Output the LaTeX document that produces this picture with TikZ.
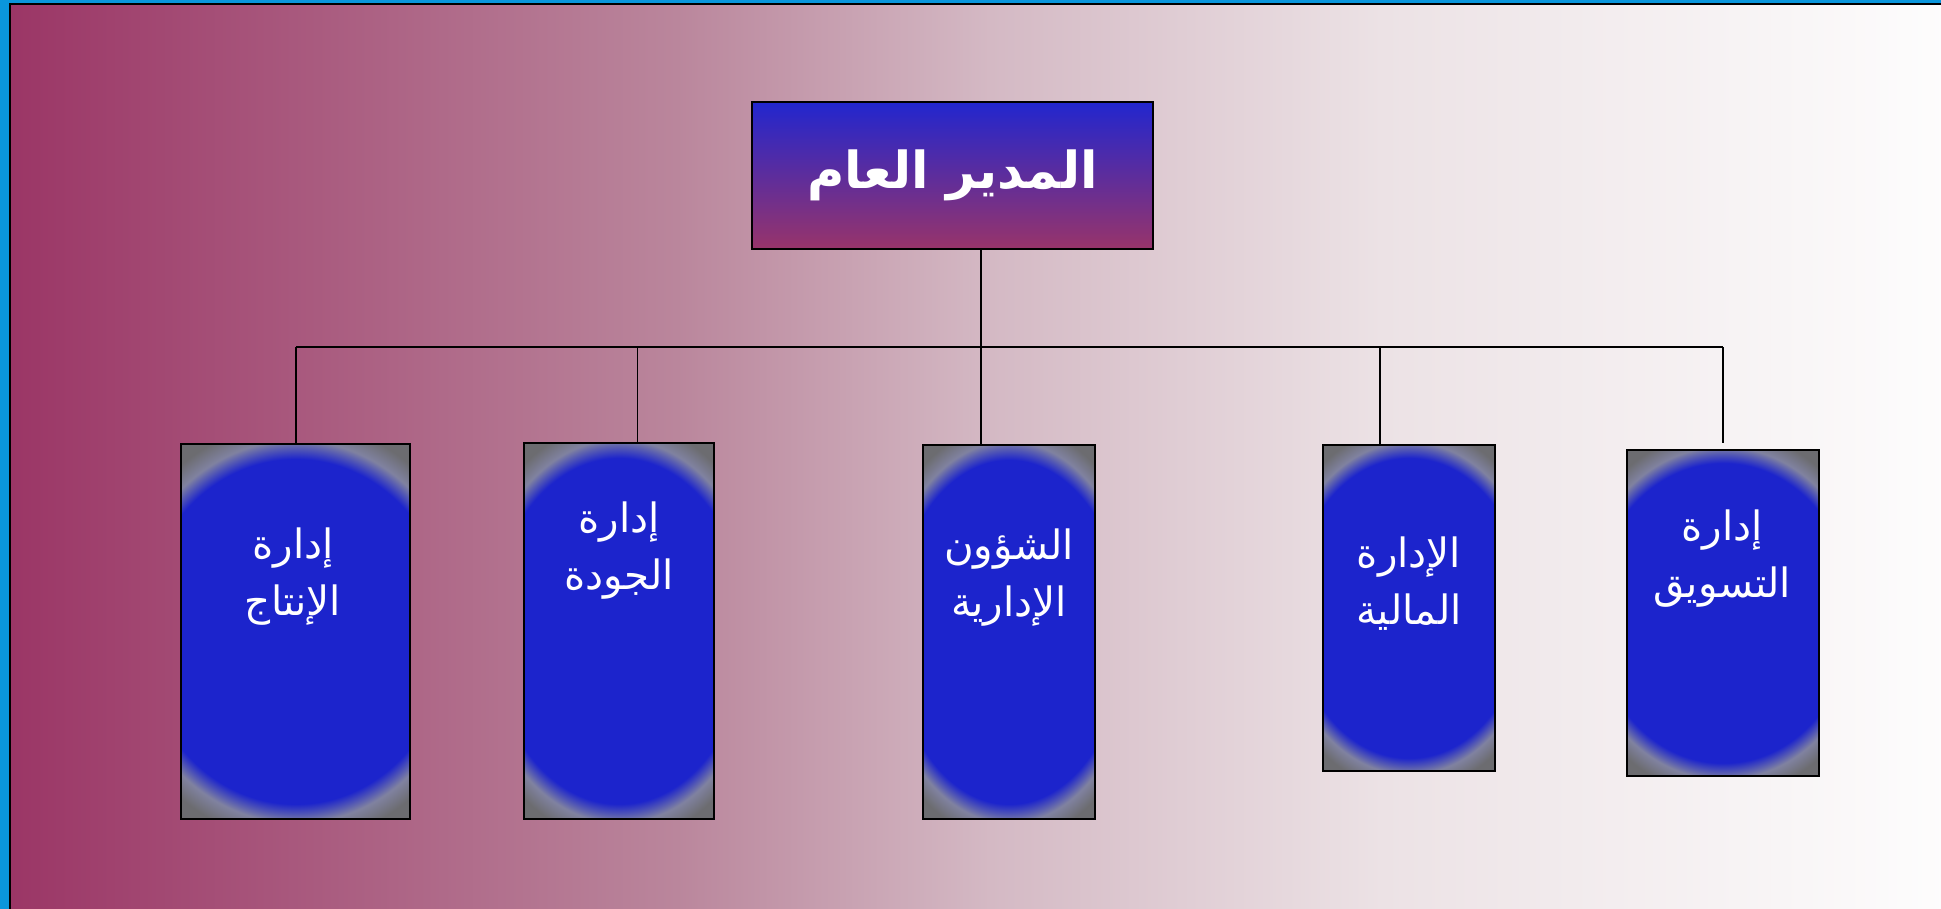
\documentclass[tikz,border=0pt]{standalone}
\usepackage{fontspec}
\newfontfamily\arabicfont[Script=Arabic]{DejaVu Sans}
\TeXXeTstate=1
\usepackage{xcolor}
\usepackage{tikz}
\usetikzlibrary{positioning,calc}

\definecolor{frameblue}{RGB}{10,150,220}
\definecolor{bgA}{RGB}{155,54,102}
\definecolor{bgB}{RGB}{186,134,156}
\definecolor{bgC}{RGB}{212,185,196}
\definecolor{bgD}{RGB}{236,226,229}
\definecolor{bgE}{RGB}{254,254,254}
\definecolor{deptblue}{RGB}{28,36,204}
\definecolor{deptband}{RGB}{128,130,160}
\definecolor{deptgray}{RGB}{108,108,112}
\definecolor{headtop}{RGB}{34,38,206}
\definecolor{headbot}{RGB}{152,52,106}

\pgfdeclarehorizontalshading{slidebg}{100bp}{color(0bp)=(bgA); color(25bp)=(bgA);
  color(42bp)=(bgB); color(50bp)=(bgC); color(60bp)=(bgD); color(75bp)=(bgE); color(100bp)=(bgE)}
\pgfdeclareradialshading{deptshade}{\pgfpoint{0bp}{0bp}}{color(0bp)=(deptblue);
  color(23bp)=(deptblue); color(25.5bp)=(deptband); color(28bp)=(deptgray); color(50bp)=(deptgray)}

\begin{document}
\begin{tikzpicture}[x=0.02cm,y=-0.02cm,line width=0.03cm,
    head/.style={draw,shading=axis,top color=headtop,bottom color=headbot,
      minimum width=8.02cm,minimum height=2.94cm,inner sep=0pt,text=white,
      font=\arabicfont\bfseries\fontsize{29}{35}\selectfont},
    dept/.style 2 args={draw,minimum width=#1,minimum height=#2,inner sep=0pt,
      path picture={
        \coordinate (pl) at ($(path picture bounding box.center)!1.47!(path picture bounding box.west)$);
        \coordinate (pr) at ($(path picture bounding box.center)!1.47!(path picture bounding box.east)$);
        \shade[shading=deptshade] (pl |- path picture bounding box.south) rectangle (pr |- path picture bounding box.north);
      }},
    deptlabel/.style={text=white,align=center,font=\arabicfont\fontsize{23}{32.5}\selectfont}]
    \clip (0,0) rectangle (1941,909);
    \fill[frameblue] (0,0) rectangle (1941,909);
    \shade[shading=slidebg,draw=black] (10,4) rectangle (1970,940);

    \node[head] (gm) at (952.5,175.5) {\beginR المدير العام\endR};

    \node[dept={4.58cm}{7.5cm}] (prod) at (295.5,631.5) {};
    \node[dept={3.8cm}{7.52cm}] (qual) at (619,631) {};
    \node[dept={3.44cm}{7.48cm}] (admin) at (1009,632) {};
    \node[dept={3.44cm}{6.52cm}] (fin) at (1409,608) {};
    \node[dept={3.84cm}{6.52cm}] (mkt) at (1723,613) {};

    \node[deptlabel] (prod-t) at (293,577) {\beginR إدارة\endR\\\beginR الإنتاج\endR};
    \node[deptlabel] (qual-t) at (619,551) {\beginR إدارة\endR\\\beginR الجودة\endR};
    \node[deptlabel] (admin-t) at (1009,578) {\beginR الشؤون\endR\\\beginR الإدارية\endR};
    \node[deptlabel] (fin-t) at (1409,584) {\beginR الإدارة\endR\\\beginR المالية\endR};
    \node[deptlabel] (mkt-t) at (1722,559) {\beginR إدارة\endR\\\beginR التسويق\endR};

    % tree lines
    \coordinate (hub) at (981,347);
    \coordinate (j1) at (296,347);
    \coordinate (j2) at (637.5,347);
    \coordinate (j4) at (1380,347);
    \coordinate (j5) at (1723,347);
    \draw (gm.south -| hub) -- (hub);
    \draw (j1) -- (j5);
    \foreach \j/\b in {j1/prod,j2/qual,hub/admin,j4/fin}
      \draw (\j) -- (\j |- \b.north);
    \draw (j5) -- ([yshift=0.12cm]j5 |- mkt.north);
  \end{tikzpicture}
\end{document}
